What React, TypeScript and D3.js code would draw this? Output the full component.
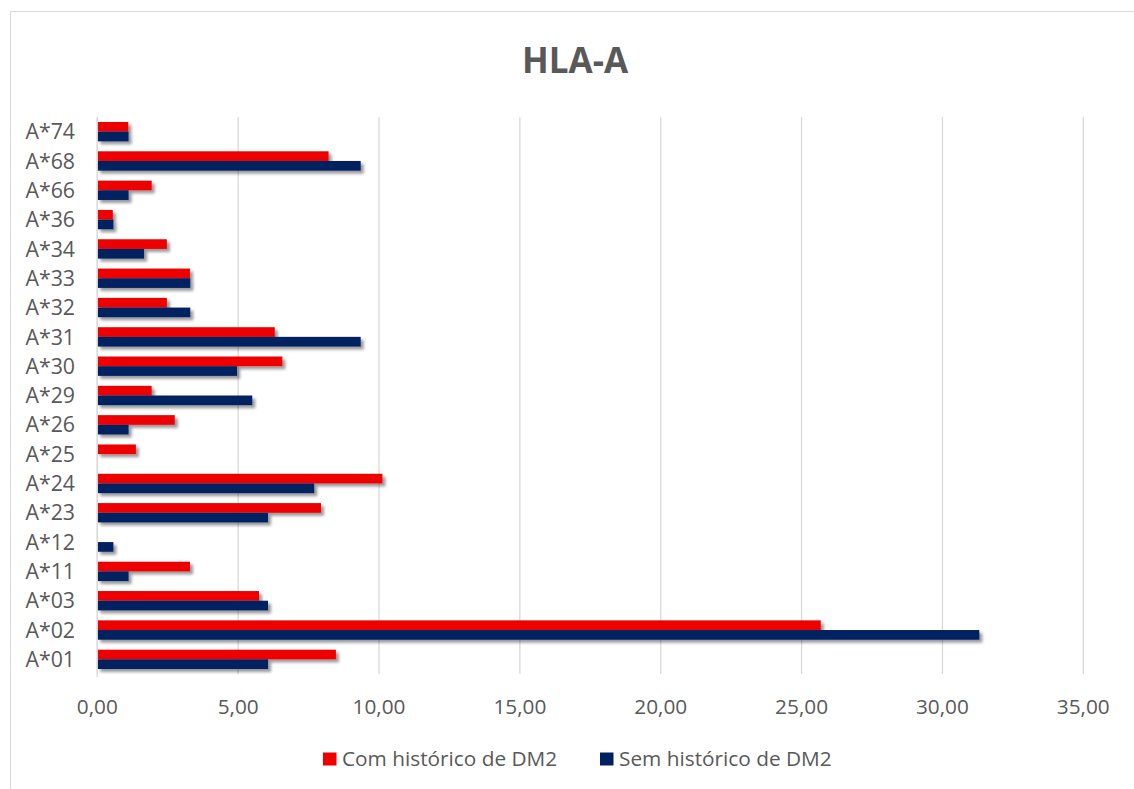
import React from "react";
import * as d3 from "d3";

const categories = ["A*01", "A*02", "A*03", "A*11", "A*12", "A*23", "A*24", "A*25", "A*26", "A*29", "A*30", "A*31", "A*32", "A*33", "A*34", "A*36", "A*66", "A*68", "A*74"];
const comHistorico = [8.47, 25.68, 5.74, 3.29, 0, 7.94, 10.12, 1.37, 2.75, 1.93, 6.57, 6.3, 2.47, 3.29, 2.47, 0.55, 1.93, 8.21, 1.1];
const semHistorico = [6.06, 31.31, 6.06, 1.11, 0.57, 6.06, 7.7, 0, 1.11, 5.5, 4.96, 9.35, 3.3, 3.3, 1.66, 0.57, 1.11, 9.35, 1.11];
const seriesNames = ["Com histórico de DM2", "Sem histórico de DM2"];
const xTicks = [0, 5, 10, 15, 20, 25, 30, 35];

const COLORS = ["#EE0000", "#002060"];
const FONT = "'Open Sans', 'Liberation Sans', sans-serif";
const TEXT = "#595959";

export default function App() {
  const W = 1134;
  const H = 789;
  const left = 97.3;
  const right = 1083.3;
  const top = 117;
  const bottom = 674;

  const x = d3.scaleLinear().domain([0, 35]).range([left, right]);
  const y = d3
    .scaleBand<string>()
    .domain([...categories].reverse())
    .range([top, bottom])
    .paddingInner(0.34)
    .paddingOuter(0.17);
  const sub = d3.scaleBand<number>().domain([0, 1]).range([0, y.bandwidth()]);

  const series = [comHistorico, semHistorico];
  const fmt = (v: number) => v.toFixed(2).replace(".", ",");

  return (
    <div style={{ position: "absolute", left: 0, top: 0 }}>
      <svg width={W} height={H} style={{ display: "block", background: "#fff" }}>
        <defs>
          <filter id="barShadow" x="-5%" y="-50%" width="115%" height="250%">
            <feGaussianBlur in="SourceAlpha" stdDeviation="1.8" />
            <feOffset dx="2.5" dy="2.5" result="blur" />
            <feComponentTransfer>
              <feFuncA type="linear" slope="0.4" />
            </feComponentTransfer>
            <feMerge>
              <feMergeNode />
              <feMergeNode in="SourceGraphic" />
            </feMerge>
          </filter>
        </defs>
        {/* chart frame */}
        <rect x={10.5} y={11.5} width={1200} height={900} fill="#fff" stroke="#D9D9D9" strokeWidth={1} />

        {/* title */}
        <text x={575} y={73} textAnchor="middle" fontFamily={FONT} fontWeight={700} fontSize={35} fill={TEXT}>
          HLA-A
        </text>

        {/* vertical gridlines */}
        {xTicks.map((t) => (
          <line key={t} x1={x(t)} x2={x(t)} y1={top} y2={bottom} stroke="#D9D9D9" strokeWidth={1.3} />
        ))}

        {/* bars */}
        <g filter="url(#barShadow)">
          {categories.map((c, i) =>
            series.map((s, k) =>
              s[i] > 0 ? (
                <rect
                  key={c + k}
                  x={x(0)}
                  y={(y(c) ?? 0) + (sub(k) ?? 0)}
                  width={x(s[i]) - x(0)}
                  height={sub.bandwidth()}
                  fill={COLORS[k]}
                />
              ) : null
            )
          )}
        </g>

        {/* category axis */}
        <line x1={x(0)} x2={x(0)} y1={top} y2={bottom + 3} stroke="#D9D9D9" strokeWidth={1.3} />

        {/* category labels */}
        {categories.map((c) => (
          <text
            key={c}
            x={75}
            y={(y(c) ?? 0) + y.bandwidth() / 2}
            dy="0.36em"
            textAnchor="end"
            fontFamily={FONT}
            fontSize={21.3}
            fill={TEXT}
          >
            {c}
          </text>
        ))}

        {/* value axis labels */}
        {xTicks.map((t) => (
          <text key={t} x={x(t)} y={707} dy="0.36em" textAnchor="middle" fontFamily={FONT} fontSize={20.8} fill={TEXT}>
            {fmt(t)}
          </text>
        ))}

        {/* legend */}
        {seriesNames.map((n, k) => {
          const lx = k === 0 ? 323 : 600;
          return (
            <g key={n}>
              <rect x={lx} y={752.5} width={13.5} height={13} fill={COLORS[k]} />
              <text x={lx + 19} y={759} dy="0.36em" fontFamily={FONT} fontSize={20.8} fill={TEXT}>
                {n}
              </text>
            </g>
          );
        })}
      </svg>
    </div>
  );
}
